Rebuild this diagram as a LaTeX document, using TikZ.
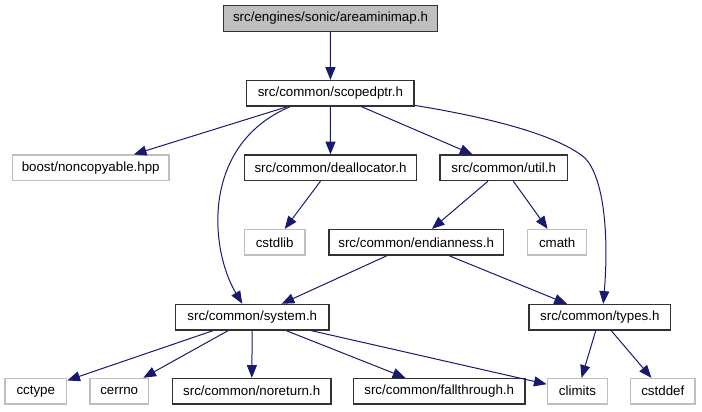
\documentclass[tikz,border=0pt]{standalone}
\usepackage{fontspec}
\setmainfont{Liberation Sans}
\usetikzlibrary{arrows.meta}
\definecolor{edgeblue}{RGB}{25,25,112}
\definecolor{boxgray}{RGB}{191,191,191}
\definecolor{boxdark}{RGB}{50,50,50}
\tikzset{
  filebox/.style={draw=boxdark, line width=1pt, fill=white, inner sep=0pt,
    minimum height=25.5*0.75pt, font=\fontsize{10}{12}\selectfont, text=black},
  extbox/.style={filebox, draw=boxgray},
  topbox/.style={filebox, fill=boxgray},
  edge/.style={draw=edgeblue, line width=0.75pt,
    -{Triangle[length=9.5pt,width=7.5pt]}}
}
\begin{document}
\begin{tikzpicture}[x=0.75pt,y=-0.75pt]
\useasboundingbox (0,0) rectangle (702,411);
% nodes
\node[topbox, minimum width=214.4*0.75pt] (top) at (330.5,18.5) {src/engines/sonic/areaminimap.h};
\node[filebox, minimum width=167.3*0.75pt] (spt) at (330.4,93.3) {src/common/scopedptr.h};
\node[extbox, minimum width=156.7*0.75pt] (boost) at (90.7,167.8) {boost/noncopyable.hpp};
\node[filebox, minimum width=172.4*0.75pt] (deal) at (330.5,167.8) {src/common/deallocator.h};
\node[filebox, minimum width=127.3*0.75pt] (util) at (503.7,167.8) {src/common/util.h};
\node[extbox, minimum width=60.7*0.75pt] (cstdlib) at (274.7,242.3) {cstdlib};
\node[filebox, minimum width=174.3*0.75pt] (endian) at (416.2,242.3) {src/common/endianness.h};
\node[extbox, minimum width=59*0.75pt] (cmath) at (557.2,242.3) {cmath};
\node[filebox, minimum width=153.3*0.75pt] (system) at (252.3,317.2) {src/common/system.h};
\node[filebox, minimum width=141.7*0.75pt] (types) at (599.8,317.2) {src/common/types.h};
\node[extbox, minimum width=61.7*0.75pt] (cctype) at (35.8,391.2) {cctype};
\node[extbox, minimum width=58.3*0.75pt] (cerrno) at (119.2,391.2) {cerrno};
\node[filebox, minimum width=158.7*0.75pt] (noreturn) at (251.7,391.2) {src/common/noreturn.h};
\node[filebox, minimum width=171.7*0.75pt] (fall) at (439.2,391.2) {src/common/fallthrough.h};
\node[extbox, minimum width=60.4*0.75pt] (climits) at (577.5,391.2) {climits};
\node[extbox, minimum width=64.3*0.75pt] (cstddef) at (662.8,391.2) {cstddef};
% edges
\draw[edge] (top) -- (spt);
\draw[edge] (spt) -- (boost);
\draw[edge] ([xshift=-30.3pt]spt.south) .. controls (200,145) and (210,250) .. ([xshift=-7.5pt]system.north);
\draw[edge] (spt) -- (deal);
\draw[edge] (spt) -- (util);
\draw[edge] ([yshift=1pt]spt.south east) .. controls (480,116) and (555,133) .. (585,158)
   .. controls (604,178) and (609,235) .. ([xshift=2.6pt]types.north);
\draw[edge] (deal) -- (cstdlib);
\draw[edge] (util) -- (endian);
\draw[edge] (util) -- (cmath);
\draw[edge] (endian) -- (system);
\draw[edge] (endian) -- (types);
\draw[edge] (system) -- (cctype);
\draw[edge] (system) -- (cerrno);
\draw[edge] (system) -- (noreturn);
\draw[edge] (system) -- (fall);
\draw[edge] (system) -- (climits);
\draw[edge] (types) -- (climits);
\draw[edge] (types) -- (cstddef);
\end{tikzpicture}
\end{document}
